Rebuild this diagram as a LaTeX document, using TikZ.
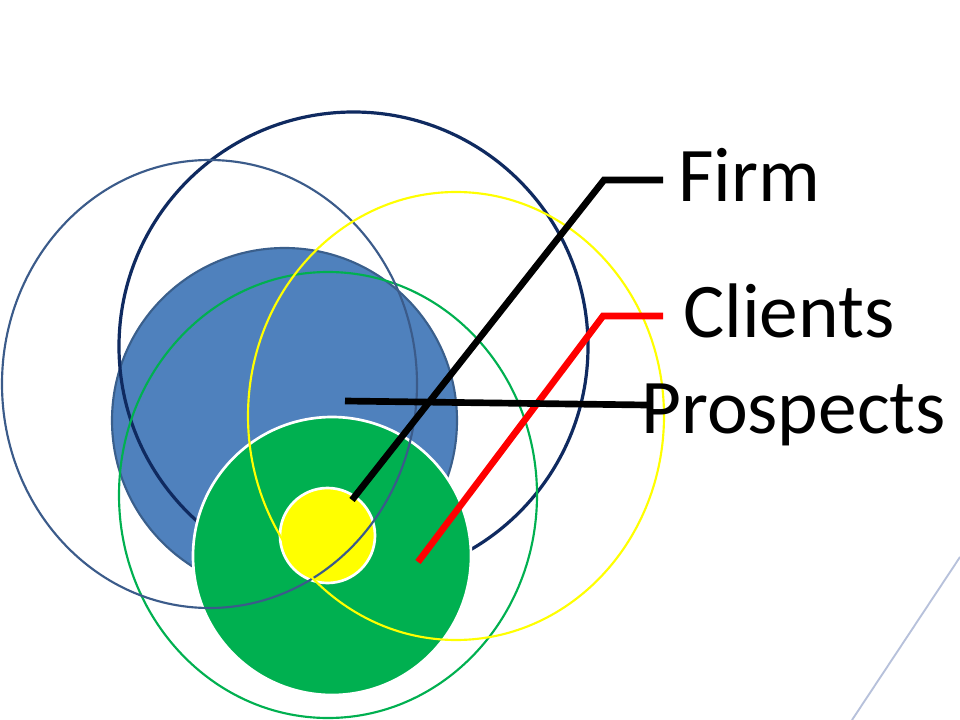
\documentclass[tikz,border=0pt]{standalone}
\usepackage{fontspec}
\setmainfont{Carlito}
\definecolor{navy}{HTML}{0F2A60}
\definecolor{slate}{HTML}{3B5B8A}
\definecolor{bluefill}{HTML}{4F81BD}
\definecolor{blueedge}{HTML}{3A5F8C}
\definecolor{grn}{HTML}{00B050}
\definecolor{yel}{HTML}{FFFF00}
\definecolor{faint}{HTML}{B7C1DB}
\tikzset{
  lbl/.style={anchor=base west, inner sep=0pt, font=\fontsize{58}{60}\selectfont, text=black},
  leader/.style={line width=5pt, line cap=butt, line join=miter},
  ring/.style={line width=1.6pt, fill=none},
}
\begin{document}
\begin{tikzpicture}[x=0.75pt, y=-0.75pt]
\useasboundingbox (0,0) rectangle (960,720);
\fill[white] (0,0) rectangle (960,720);
% blue filled circle
\draw[fill=bluefill, draw=blueedge, line width=1.6pt] (284.5,420.5) circle [radius=172.5];
% navy circle
\draw[draw=navy, line width=2.4pt] (353.5,346.5) circle [radius=234.5];
% green outline ellipse
\draw[ring, draw=grn] (328,495) ellipse [x radius=209, y radius=223];
% green filled circle
\draw[fill=grn, draw=white, line width=2pt] (332,556) circle [radius=139];
% yellow filled circle
\draw[fill=yel, draw=white, line width=2pt] (327.5,535.5) circle [radius=47.5];
% slate ellipse
\draw[ring, draw=slate] (209.5,384) ellipse [x radius=207.5, y radius=224];
% yellow outline ellipse
\draw[ring, draw=yel] (456,416) ellipse [x radius=208, y radius=224];
% faint line bottom right
\coordinate (f1) at (852,720);
\coordinate (f2) at (960,557);
\draw[faint, line width=1.4pt] (f1) -- (f2);
% labels
\node[lbl] (firm) at (678,202) {Firm};
\node[lbl] (clients) at (683,337) {Clients};
\node[lbl] (prospects) at (641,433) {Prospects};
% leaders
\coordinate (fa) at (352,500);
\coordinate (fb) at (604,180);
\coordinate (fc) at (663,180);
\draw[leader, black] (fa) -- (fb) -- (fc);
\coordinate (ca) at (418,562);
\coordinate (cb) at (603,316);
\coordinate (cc) at (663,316);
\draw[leader, red] (ca) -- (cb) -- (cc);
\coordinate (pa) at (345,401);
\coordinate (pb) at (647,405);
\draw[leader, black] (pa) -- (pb);
\end{tikzpicture}
\end{document}
